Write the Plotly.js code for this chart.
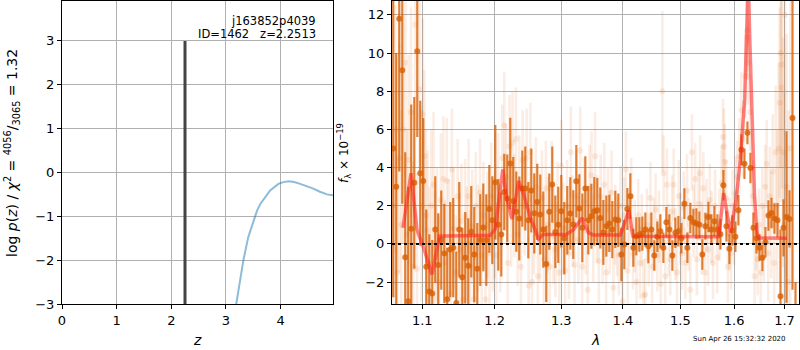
<!DOCTYPE html>
<html>
<head>
<meta charset="utf-8">
<script src="https://cdn.plot.ly/plotly-3.0.1.min.js"></script>
<style>
html, body { margin: 0; padding: 0; background: #fff; }
#chart { width: 800px; height: 350px; }
</style>
</head>
<body>
<div id="chart"></div>
<script>
// ---- Left panel: log p(z) ----
const zGrid = [3.15, 3.25, 3.32, 3.41, 3.5, 3.57, 3.63, 3.69, 3.81, 3.96, 4.05, 4.15, 4.25, 4.36, 4.48, 4.6, 4.72, 4.85, 4.96];
const logPz = [-3.3, -2.5, -2.0, -1.47, -1.12, -0.87, -0.72, -0.62, -0.41, -0.26, -0.22, -0.2, -0.22, -0.26, -0.31, -0.37, -0.44, -0.5, -0.52];
const zBest = 2.2513;
const zMarkerY = [-3, 3];

// ---- Right panel: binned spectrum (dark points) ----
const darkWave = [
1.0623, 1.0661, 1.0700, 1.0739, 1.0777, 1.0816, 1.0855, 1.0895, 1.0934, 1.0973,
1.1013, 1.1053, 1.1093, 1.1133, 1.1173, 1.1213, 1.1254, 1.1295, 1.1335, 1.1376,
1.1417, 1.1459, 1.1500, 1.1542, 1.1583, 1.1625, 1.1667, 1.1709, 1.1752, 1.1794,
1.1837, 1.1880, 1.1923, 1.1966, 1.2009, 1.2052, 1.2096, 1.2139, 1.2183, 1.2227,
1.2271, 1.2316, 1.2360, 1.2405, 1.2450, 1.2495, 1.2540, 1.2585, 1.2630, 1.2676,
1.2722, 1.2768, 1.2814, 1.2860, 1.2907, 1.2953, 1.3000, 1.3047, 1.3094, 1.3142,
1.3189, 1.3237, 1.3285, 1.3333, 1.3381, 1.3429, 1.3478, 1.3526, 1.3575, 1.3624,
1.3674, 1.3723, 1.3773, 1.3822, 1.3872, 1.3922, 1.3973, 1.4023, 1.4074, 1.4125,
1.4176, 1.4227, 1.4279, 1.4330, 1.4382, 1.4434, 1.4486, 1.4538, 1.4591, 1.4644,
1.4697, 1.4750, 1.4803, 1.4857, 1.4910, 1.4964, 1.5018, 1.5073, 1.5127, 1.5182,
1.5237, 1.5292, 1.5347, 1.5402, 1.5458, 1.5514, 1.5570, 1.5626, 1.5683, 1.5740,
1.5796, 1.5854, 1.5911, 1.5968, 1.6026, 1.6084, 1.6142, 1.6201, 1.6259, 1.6318,
1.6377, 1.6436, 1.6496, 1.6555, 1.6615, 1.6675, 1.6736, 1.6796, 1.6857, 1.6918,
1.6979, 1.7041, 1.7102, 1.7164, 1.7226];
const darkFlux = [
5.0, 3.0, 11.8, 9.1, -0.7, -3.0, 0.8, 3.2, 10.1, 3.7,
3.3, -1.2, -2.5, -2.6, 0.75, -1.1, 0.2, -0.5, -2.9, -0.3,
-0.2, -3.1, 0.75, -1.75, -0.73, -1.15, 0.64, -0.56, -1.3, 0.2,
0.86, 0.2, 1.83, 1.24, 3.23, 1.0, 0.49, 2.72, 2.38, 4.21,
2.25, 1.69, 1.33, 2.9, 2.9, 1.24, 2.8, 1.6, 2.2, 1.54,
0.75, -1.05, 1.69, 3.11, 0.63, 1.0, 1.71, 0.3, 1.24, 1.59,
1.01, 3.28, 1.85, 0.84, 2.9, 1.24, 1.45, 1.71, 1.76, 1.36,
0.6, 0.93, 1.07, 0.75, 1.28, 1.24, -0.56, -0.03, 1.83, 2.5,
-0.2, 0.4, 0.49, 0.54, 0.75, -0.12, 0.75, -0.61, 0.37, 0.66,
-0.2, 1.14, 0.75, -0.61, 0.58, 0.66, 0.3, 2.11, -0.2, 1.36,
1.14, 1.07, 1.0, -0.56, 0.93, 1.41, 0.75, 1.19, 0.75, 0.5,
3.07, 0.93, -0.26, 0.7, 0.37, 1.76, 4.94, 4.2, 5.82, 3.98,
0.84, 0.3, -0.2, -0.73, 0.09, 1.49, 1.62, 1.33, 1.24, -2.74,
0.84, 1.41, 1.31, 6.6, -6.0];
const darkErr = [
7.8, 7.0, 8.0, 7.0, 5.5, 6.0, 6.5, 4.5, 4.5, 3.8,
3.3, 3.0, 3.0, 2.8, 2.8, 2.7, 2.6, 2.6, 2.7, 2.5,
2.6, 2.7, 2.5, 2.6, 2.4, 2.5, 2.4, 2.5, 2.4, 2.4,
2.3, 2.4, 2.3, 2.3, 3.0, 2.4, 2.2, 2.0, 2.3, 2.4,
2.3, 2.1, 2.2, 2.0, 2.2, 2.0, 2.2, 2.1, 2.0, 2.1,
2.0, 2.0, 2.0, 2.0, 1.9, 2.0, 1.9, 1.9, 1.8, 1.9,
1.8, 1.9, 1.8, 1.8, 1.7, 1.8, 1.7, 1.8, 1.7, 1.6,
1.7, 1.6, 1.5, 1.5, 1.5, 1.4, 1.4, 1.3, 1.1, 1.2,
1.0, 1.0, 0.9, 0.9, 0.9, 0.9, 0.9, 0.8, 0.8, 0.9,
0.8, 0.8, 0.8, 0.8, 0.8, 0.8, 0.8, 0.8, 0.8, 0.8,
0.7, 0.8, 0.7, 0.8, 0.7, 0.8, 0.8, 0.8, 0.8, 0.8,
0.8, 0.8, 0.8, 0.8, 0.8, 0.8, 0.8, 0.8, 0.6, 0.8,
0.8, 0.8, 0.7, 0.7, 0.8, 0.8, 0.8, 0.8, 0.9, 3.5,
1.5, 4.5, 1.5, 9.0, 4.0];

// ---- Right panel: unbinned spectrum (faint points) ----
const faintWave = [
1.0625, 1.0650, 1.0675, 1.0700, 1.0725, 1.0750, 1.0779, 1.0800, 1.0821, 1.0852, 1.0880, 1.0908, 1.0930, 1.0964, 1.0990, 1.1009,
1.1026, 1.1050, 1.1070, 1.1095, 1.1120, 1.1150, 1.1172, 1.1195, 1.1220, 1.1248, 1.1283, 1.1305, 1.1329, 1.1355, 1.1384, 1.1398, 1.1420, 1.1450, 1.1478, 1.1505, 1.1530, 1.1555, 1.1581, 1.1605,
1.1630, 1.1655, 1.1680, 1.1705, 1.1730, 1.1760, 1.1790, 1.1815, 1.1840, 1.1870, 1.1895, 1.1925, 1.1950, 1.1975, 1.2000, 1.2025, 1.2050, 1.2080, 1.2110, 1.2140,
1.2165, 1.2190, 1.2215, 1.2240, 1.2260, 1.2285, 1.2310, 1.2335, 1.2360, 1.2385, 1.2410, 1.2440, 1.2470, 1.2500, 1.2525, 1.2550, 1.2580, 1.2610, 1.2640, 1.2670, 1.2700, 1.2730, 1.2760, 1.2790, 1.2820, 1.2850, 1.2880, 1.2910, 1.2940, 1.2970,
1.3000, 1.3030, 1.3060, 1.3090, 1.3120, 1.3150, 1.3180, 1.3210, 1.3240, 1.3270, 1.3300, 1.3330, 1.3360, 1.3390, 1.3420, 1.3450, 1.3480, 1.3510, 1.3540, 1.3570, 1.3600, 1.3630, 1.3660, 1.3690, 1.3720, 1.3750, 1.3780, 1.3810, 1.3840, 1.3870, 1.3900, 1.3930, 1.3960, 1.3990,
1.4020, 1.4050, 1.4080, 1.4110, 1.4140, 1.4170, 1.4200, 1.4230, 1.4260, 1.4290, 1.4320, 1.4350, 1.4380, 1.4410, 1.4440, 1.4470, 1.4500, 1.4530, 1.4560, 1.4590, 1.4620, 1.4650, 1.4678, 1.4700, 1.4730, 1.4760, 1.4790, 1.4820, 1.4850, 1.4880, 1.4910, 1.4940, 1.4970, 1.5000, 1.5030, 1.5060, 1.5090, 1.5120, 1.5150, 1.5180, 1.5210, 1.5240, 1.5270, 1.5300, 1.5330, 1.5360, 1.5390, 1.5420, 1.5450, 1.5480, 1.5510, 1.5540, 1.5570, 1.5600,
1.5640, 1.5680, 1.5720, 1.5760, 1.5790, 1.5805, 1.5825, 1.5850, 1.5880, 1.5910, 1.5940, 1.5970, 1.6000, 1.6030, 1.6060, 1.6100, 1.6140, 1.6180, 1.6220, 1.6250, 1.6265, 1.6280, 1.6310, 1.6340, 1.6370, 1.6400, 1.6430, 1.6460, 1.6490, 1.6520, 1.6550, 1.6580,
1.6610, 1.6640, 1.6670, 1.6700, 1.6730, 1.6760, 1.6790, 1.6820, 1.6850, 1.6880, 1.6900, 1.6920, 1.6935, 1.6950, 1.6970, 1.6990, 1.7010, 1.7040, 1.7080, 1.7120];
const faintFlux = [
2.0, 6.0, -1.5, 4.5, 1.0, 6.0, 9.5, 0.5, 4.4, 6.9, -1.2, 11.5, -1.3, 8.1, 2.0, 6.8,
4.6, 1.5, 0.7, -1.0, 2.0, 3.1, -0.7, 0.5, -2.0, 2.3, 3.4, -1.0, 3.3, 0.2, -2.6, 3.9, 0.8, -1.5, 2.5, -0.3, 1.2, -2.9, 1.45, 0.0,
2.5, -1.2, 0.9, -2.9, 2.0, 0.3, 2.7, -0.6, 1.5, -2.9, 1.0, -0.5, 2.5, 0.3, 1.0, -0.6, 3.0, 0.26, 4.5, 6.2,
3.5, -1.0, 5.1, 1.5, 5.3, 2.0, 5.5, 0.5, 3.0, -1.2, 4.4, 2.0, 4.5, -2.2, 4.8, -2.0, 1.0, 3.0, -1.7, 0.5, 2.4, -0.8, 2.9, 1.0, -1.2, 2.9, 0.4, -0.3, 1.8, -1.5,
4.1, 0.8, -1.4, 2.0, -0.5, 4.8, 1.2, -1.1, 2.5, 0.2, 4.9, -1.2, 2.2, 0.7, -2.4, 2.9, 3.6, 0.3, 4.6, 1.3, -0.9, 2.5, 0.1, 3.1, -1.5, 1.8, 0.6, 2.7, -2.3, 1.0, 0.4, -0.6, 2.0, -3.0,
1.5, 3.9, -1.4, 0.8, 2.5, -0.5, 0.4, -2.0, 1.5, -1.0, 0.7, -2.7, -2.65, 1.0, -0.3, 2.4, -1.2, 0.5, 1.8, -0.6, 0.9, -2.1, 8.0, 3.7, -1.7, 3.1, 0.2, -0.8, 1.7, 3.1, 0.0, -1.5, 2.5, 0.8, -0.5, 1.9, -1.0, 2.8, 0.5, -2.4, 4.8, 1.2, 3.4, -0.8, 2.1, 3.7, 0.3, 2.9, -1.5, 1.5, -0.3, 2.3, 0.9, -1.0,
2.0, -0.7, 1.0, 3.2, 5.6, 5.1, 4.3, 2.4, -1.2, 0.5, -0.5, 2.0, 0.8, 2.7, 3.5, 4.6, 7.0, 5.5, 8.8, 11.2, 10.8, 9.5, 6.9, 4.0, 2.5, -1.7, 0.5, -0.8, 1.0, -1.5, 2.0, 0.0,
3.0, 4.2, -0.5, 2.5, 1.0, 3.8, -1.0, 4.8, 2.0, 5.0, 7.4, 10.0, 8.2, 9.4, 4.8, 1.0, 12.0, 3.0, -2.0, 5.0];
const faintErr = [
6.0, 6.5, 6.0, 6.0, 6.0, 6.0, 6.0, 5.5, 5.5, 5.5, 5.5, 5.5, 5.0, 5.0, 5.0, 5.0,
4.5, 4.5, 4.2, 4.0, 4.0, 3.8, 3.5, 3.5, 3.5, 3.5, 3.3, 3.3, 3.3, 3.2, 3.2, 3.2, 3.2, 3.0, 3.0, 3.0, 3.0, 3.0, 3.0, 3.0,
3.0, 3.0, 3.0, 2.8, 2.8, 2.8, 2.8, 2.8, 2.8, 2.8, 2.8, 2.8, 2.8, 2.8, 2.8, 2.8, 2.8, 2.8, 2.8, 2.8,
2.8, 2.7, 2.7, 2.7, 2.7, 2.7, 2.7, 2.7, 2.7, 2.6, 2.6, 2.6, 2.6, 2.6, 2.6, 2.6, 2.6, 2.6, 2.5, 2.5, 2.5, 2.5, 2.5, 2.5, 2.5, 2.5, 2.5, 2.5, 2.5, 2.4,
2.4, 2.4, 2.4, 2.4, 2.4, 2.4, 2.4, 2.4, 2.4, 2.3, 2.3, 2.3, 2.3, 2.3, 2.3, 2.3, 2.3, 2.3, 2.3, 2.3, 2.2, 2.2, 2.2, 2.2, 2.2, 2.2, 2.2, 2.2, 2.2, 2.1, 2.1, 2.1, 2.1, 2.1,
2.0, 2.0, 2.0, 2.0, 2.0, 1.9, 1.9, 1.9, 1.9, 1.9, 1.9, 1.9, 1.9, 1.9, 1.9, 1.9, 1.9, 1.9, 1.9, 1.9, 1.9, 1.9, 4.2, 2.0, 1.9, 1.9, 1.9, 1.9, 1.9, 1.9, 1.9, 1.9, 1.9, 1.9, 1.9, 1.9, 1.9, 1.9, 1.9, 1.9, 2.0, 1.9, 1.9, 1.9, 1.9, 2.0, 1.9, 1.9, 1.9, 1.9, 1.9, 1.9, 1.9, 1.9,
1.9, 1.9, 1.9, 2.0, 2.0, 2.0, 2.0, 2.0, 1.9, 1.9, 1.9, 1.9, 1.9, 1.9, 1.9, 2.0, 2.0, 2.0, 2.2, 2.2, 2.2, 2.2, 2.0, 2.0, 1.9, 1.9, 1.9, 1.9, 1.9, 2.0, 2.0, 2.0,
2.2, 2.3, 2.5, 2.6, 2.8, 3.0, 3.2, 3.5, 4.0, 4.5, 5.0, 6.0, 6.0, 6.5, 6.0, 7.0, 8.0, 8.0, 9.0, 10.0];

// ---- Right panel: best-fit model ----
const modelWave = [1.0748, 1.0852, 1.0930, 1.1017, 1.1129, 1.1230, 1.1308, 1.1600, 1.1937, 1.2009, 1.2117, 1.2170, 1.2253, 1.2350, 1.2424, 1.2525, 1.2650, 1.2720, 1.3078, 1.3194, 1.3328, 1.3434, 1.3510, 1.3956, 1.4099, 1.4170, 1.4800, 1.5707, 1.5801, 1.5928, 1.6038, 1.6121, 1.6205, 1.6251, 1.6276, 1.6302, 1.6349, 1.6401, 1.6448, 1.6480, 1.7052];
const modelFlux = [0.84, 3.7, 0.75, -0.2, -1.6, 0.4, 0.42, 0.42, 0.45, 0.8, 3.9, 2.5, 1.3, 3.3, 2.6, 1.4, 0.25, 0.49, 0.49, 0.75, 1.36, 0.58, 0.47, 0.47, 1.75, 0.4, 0.4, 0.38, 2.67, 0.58, 2.3, 4.4, 7.6, 12.5, 14.0, 11.0, 6.7, 2.3, 0.58, 0.31, 0.3];

// ---- Ticks / labels ----
const zTicks = [0, 1, 2, 3, 4];
const pzTicks = [-3, -2, -1, 0, 1, 2, 3];
const waveTicks = [1.1, 1.2, 1.3, 1.4, 1.5, 1.6, 1.7];
const waveTickText = ['1.1', '1.2', '1.3', '1.4', '1.5', '1.6', '1.7'];
const fluxTicks = [-2, 0, 2, 4, 6, 8, 10, 12];
const objName = 'j163852p4039';
const objInfo = 'ID=1462\u00a0\u00a0\u00a0z=2.2513';
const stamp = 'Sun Apr 26 15:32:32 2020';

const ORANGE_DARK = 'rgba(217,95,2,0.8)';
const ORANGE_FAINT = 'rgba(217,95,2,0.11)';

const traces = [
  { x: zGrid, y: logPz, xaxis: 'x', yaxis: 'y', mode: 'lines',
    line: { color: 'rgba(31,119,180,0.5)', width: 2 }, hoverinfo: 'skip' },
  { x: [zBest, zBest], y: zMarkerY, xaxis: 'x', yaxis: 'y', mode: 'lines',
    line: { color: '#444444', width: 3 }, hoverinfo: 'skip' },
  { x: faintWave, y: faintFlux, xaxis: 'x2', yaxis: 'y2', mode: 'markers',
    marker: { color: ORANGE_FAINT, size: 6 },
    error_y: { type: 'data', array: faintErr, visible: true, color: ORANGE_FAINT, thickness: 2.6, width: 0 },
    cliponaxis: true, hoverinfo: 'skip' },
  { x: darkWave, y: darkFlux, xaxis: 'x2', yaxis: 'y2', mode: 'markers',
    marker: { color: ORANGE_DARK, size: 6 },
    error_y: { type: 'data', array: darkErr, visible: true, color: ORANGE_DARK, thickness: 2.2, width: 0 },
    cliponaxis: true, hoverinfo: 'skip' },
  { x: modelWave, y: modelFlux, xaxis: 'x2', yaxis: 'y2', mode: 'lines',
    line: { color: 'rgba(255,30,30,0.55)', width: 3.5 }, hoverinfo: 'skip' }
];

const axisCommon = {
  ticks: 'outside', ticklen: 4, tickwidth: 1, tickcolor: 'black',
  showline: true, mirror: true, linecolor: 'black', linewidth: 1,
  showgrid: true, gridcolor: '#b0b0b0', gridwidth: 1, zeroline: false,
  tickfont: { family: 'DejaVu Sans', size: 13, color: 'black' },
  fixedrange: true
};
const yDom = [46 / 350, 349 / 350];

const layout = {
  width: 800, height: 350,
  margin: { l: 0, r: 0, t: 0, b: 0 },
  paper_bgcolor: 'white', plot_bgcolor: 'white',
  showlegend: false,
  font: { family: 'DejaVu Sans', size: 13, color: 'black' },
  xaxis: Object.assign({}, axisCommon, { domain: [62 / 800, 333 / 800], range: [0, 4.96], tickvals: zTicks, anchor: 'y' }),
  yaxis: Object.assign({}, axisCommon, { domain: yDom, range: [-3, 3.91], tickvals: pzTicks, anchor: 'x' }),
  xaxis2: Object.assign({}, axisCommon, { domain: [392 / 800, 798.5 / 800], type: 'log',
    range: [Math.log10(1.0607), Math.log10(1.7288)], tickvals: waveTicks, ticktext: waveTickText, anchor: 'y2' }),
  yaxis2: Object.assign({}, axisCommon, { domain: yDom, range: [-3.15, 12.73], tickvals: fluxTicks, anchor: 'x2' }),
  shapes: [
    { type: 'line', xref: 'x2 domain', yref: 'y2', x0: 0, x1: 1, y0: 0, y1: 0,
      line: { color: 'black', width: 2, dash: 'dot' }, layer: 'above' }
  ],
  annotations: [
    { text: objName, xref: 'paper', yref: 'paper', x: 317.5 / 800, y: (350 - 20.5) / 350,
      xanchor: 'right', yanchor: 'middle', showarrow: false, font: { size: 11.5 } },
    { text: objInfo, xref: 'paper', yref: 'paper', x: 317.5 / 800, y: (350 - 34.5) / 350,
      xanchor: 'right', yanchor: 'middle', showarrow: false, font: { size: 11.5 } },
    { text: '<i>z</i>', xref: 'paper', yref: 'paper', x: 197 / 800, y: (350 - 340) / 350,
      xanchor: 'center', yanchor: 'middle', showarrow: false, font: { size: 14 } },
    { text: '<i>λ</i>', xref: 'paper', yref: 'paper', x: 595 / 800, y: (350 - 340) / 350,
      xanchor: 'center', yanchor: 'middle', showarrow: false, font: { size: 14 } },
    { text: 'log <i>p</i>(<i>z</i>) / <i>χ</i><sup>2</sup> = <sup>4056</sup>/<sub>3065</sub> = 1.32',
      xref: 'paper', yref: 'paper', x: 12 / 800, y: (350 - 153) / 350, textangle: -90,
      xanchor: 'center', yanchor: 'middle', showarrow: false, font: { size: 14 } },
    { text: '<i>f</i><sub>λ</sub> × 10<sup>−19</sup>',
      xref: 'paper', yref: 'paper', x: 344 / 800, y: (350 - 153) / 350, textangle: -90,
      xanchor: 'center', yanchor: 'middle', showarrow: false, font: { size: 12 } },
    { text: stamp, xref: 'paper', yref: 'paper', x: 788 / 800, y: (350 - 339) / 350,
      xanchor: 'right', yanchor: 'middle', showarrow: false, font: { size: 7 } }
  ]
};

Plotly.newPlot('chart', traces, layout, { staticPlot: true, displayModeBar: false });
</script>
</body>
</html>
